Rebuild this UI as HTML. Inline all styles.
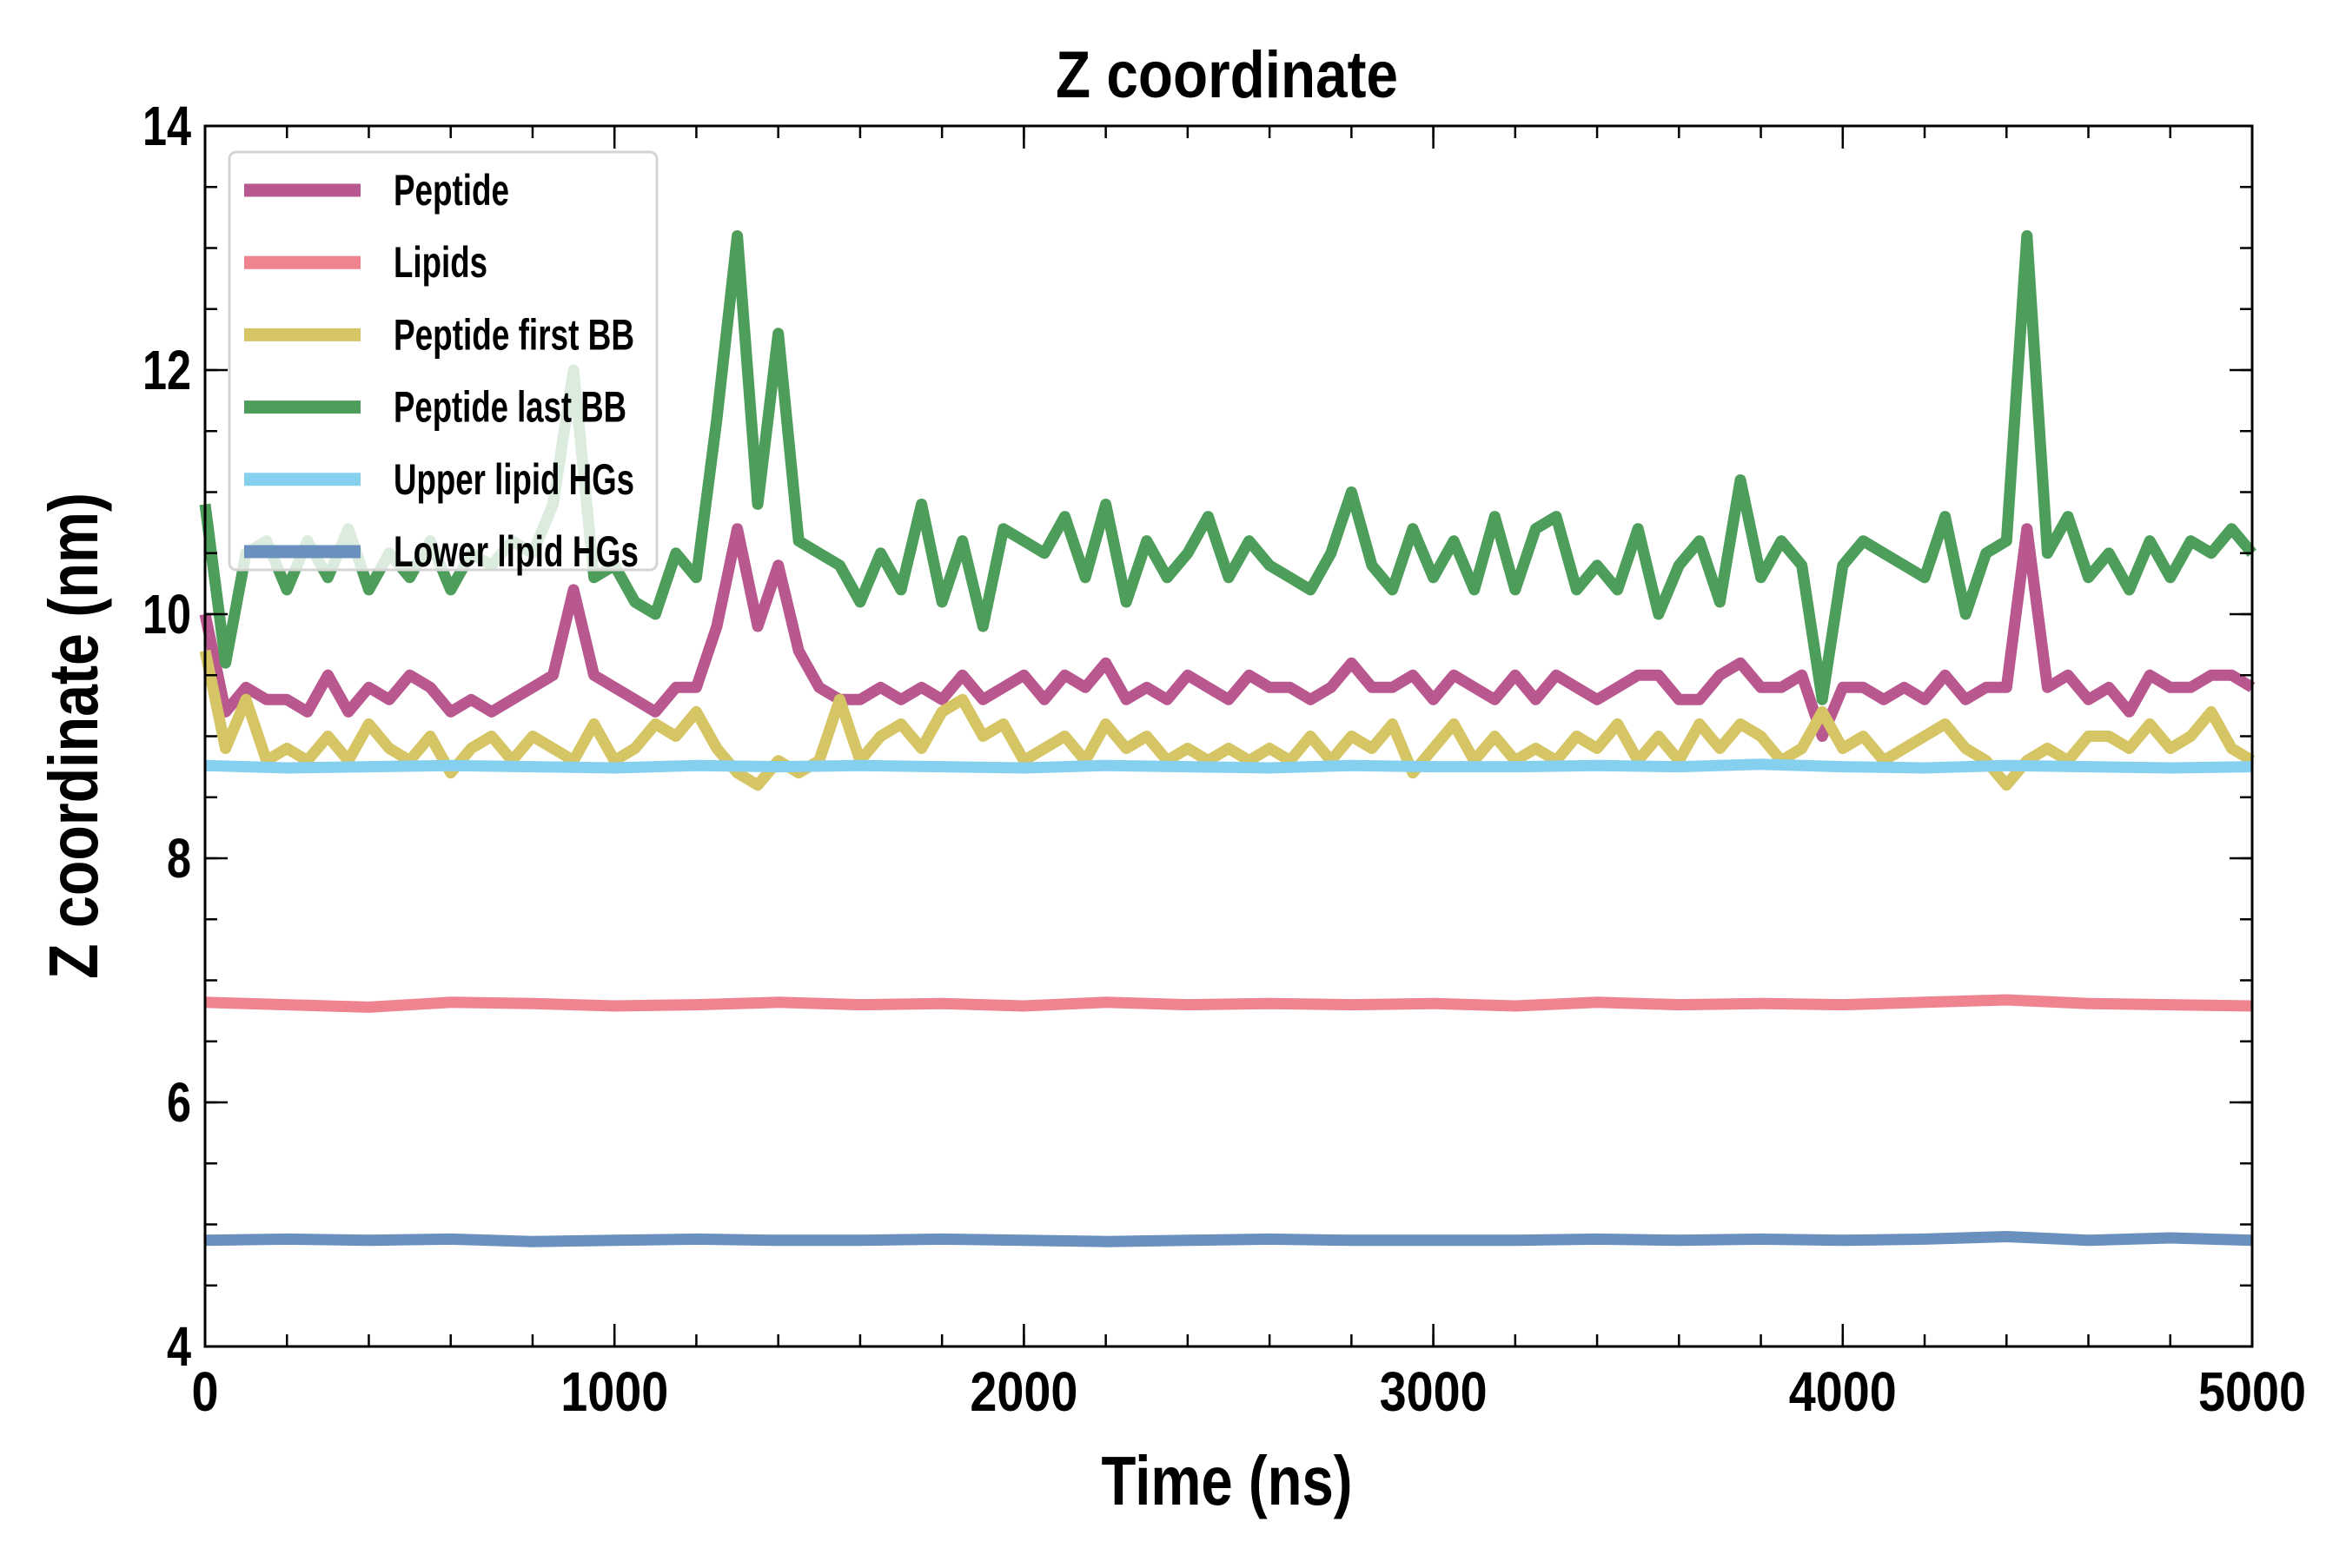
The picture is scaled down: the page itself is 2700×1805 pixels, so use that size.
<!DOCTYPE html>
<html><head><meta charset="utf-8"><style>
html,body{margin:0;padding:0;background:#fff;}
svg text{font-family:"Liberation Sans Narrow","Liberation Sans",sans-serif;font-weight:bold;fill:#000;}
</style></head><body>
<svg id="chart" width="2700" height="1800" viewBox="0 0 2700 1800" xmlns="http://www.w3.org/2000/svg">
<rect width="2700" height="1800" fill="#fff"/>
<text x="1412" y="112" font-size="76" text-anchor="middle" textLength="394" lengthAdjust="spacingAndGlyphs">Z coordinate</text>
<g id="series"></g>
<g id="axes"></g>
<text x="1412" y="1732" font-size="80" text-anchor="middle" textLength="289" lengthAdjust="spacingAndGlyphs">Time (ns)</text>
<text transform="translate(112,847) rotate(-90)" font-size="80" text-anchor="middle" textLength="560" lengthAdjust="spacingAndGlyphs">Z coordinate (nm)</text>
<g id="legend"></g>
</svg>
<script>
const xTicks=[0,1000,2000,3000,4000,5000];
const yTicks=[4,6,8,10,12,14];
const seriesNames=["Peptide","Lipids","Peptide first BB","Peptide last BB","Upper lipid HGs","Lower lipid HGs"];
const tDense=[];for(let i=0;i<=100;i++)tDense.push(i*50);
const tSparse=[];for(let i=0;i<=25;i++)tSparse.push(i*200);
const peptide=[10.0,9.2,9.4,9.3,9.3,9.2,9.5,9.2,9.4,9.3,9.5,9.4,9.2,9.3,9.2,9.3,9.4,9.5,10.2,9.5,9.4,9.3,9.2,9.4,9.4,9.9,10.7,9.9,10.4,9.7,9.4,9.3,9.3,9.4,9.3,9.4,9.3,9.5,9.3,9.4,9.5,9.3,9.5,9.4,9.6,9.3,9.4,9.3,9.5,9.4,9.3,9.5,9.4,9.4,9.3,9.4,9.6,9.4,9.4,9.5,9.3,9.5,9.4,9.3,9.5,9.3,9.5,9.4,9.3,9.4,9.5,9.5,9.3,9.3,9.5,9.6,9.4,9.4,9.5,9.0,9.4,9.4,9.3,9.4,9.3,9.5,9.3,9.4,9.4,10.7,9.4,9.5,9.3,9.4,9.2,9.5,9.4,9.4,9.5,9.5,9.4];
const firstBB=[9.7,8.9,9.3,8.8,8.9,8.8,9.0,8.8,9.1,8.9,8.8,9.0,8.7,8.9,9.0,8.8,9.0,8.9,8.8,9.1,8.8,8.9,9.1,9.0,9.2,8.9,8.7,8.6,8.8,8.7,8.8,9.3,8.8,9.0,9.1,8.9,9.2,9.3,9.0,9.1,8.8,8.9,9.0,8.8,9.1,8.9,9.0,8.8,8.9,8.8,8.9,8.8,8.9,8.8,9.0,8.8,9.0,8.9,9.1,8.7,8.9,9.1,8.8,9.0,8.8,8.9,8.8,9.0,8.9,9.1,8.8,9.0,8.8,9.1,8.9,9.1,9.0,8.8,8.9,9.2,8.9,9.0,8.8,8.9,9.0,9.1,8.9,8.8,8.6,8.8,8.9,8.8,9.0,9.0,8.9,9.1,8.9,9.0,9.2,8.9,8.8];
const lastBB=[10.9,9.6,10.5,10.6,10.2,10.6,10.3,10.7,10.2,10.5,10.3,10.6,10.2,10.5,10.4,10.6,10.5,10.9,12.0,10.3,10.4,10.1,10.0,10.5,10.3,11.6,13.1,10.9,12.3,10.6,10.5,10.4,10.1,10.5,10.2,10.9,10.1,10.6,9.9,10.7,10.6,10.5,10.8,10.3,10.9,10.1,10.6,10.3,10.5,10.8,10.3,10.6,10.4,10.3,10.2,10.5,11.0,10.4,10.2,10.7,10.3,10.6,10.2,10.8,10.2,10.7,10.8,10.2,10.4,10.2,10.7,10.0,10.4,10.6,10.1,11.1,10.3,10.6,10.4,9.3,10.4,10.6,10.5,10.4,10.3,10.8,10.0,10.5,10.6,13.1,10.5,10.8,10.3,10.5,10.2,10.6,10.3,10.6,10.5,10.7,10.5];
const lipids=[6.82,6.80,6.78,6.82,6.81,6.79,6.80,6.82,6.80,6.81,6.79,6.82,6.80,6.81,6.80,6.81,6.79,6.82,6.80,6.81,6.80,6.82,6.84,6.81,6.80,6.79];
const upperHG=[8.76,8.74,8.75,8.76,8.75,8.74,8.76,8.75,8.76,8.75,8.74,8.76,8.75,8.74,8.76,8.75,8.75,8.76,8.75,8.77,8.75,8.74,8.76,8.75,8.74,8.75];
const lowerHG=[4.87,4.88,4.87,4.88,4.86,4.87,4.88,4.87,4.87,4.88,4.87,4.86,4.87,4.88,4.87,4.87,4.87,4.88,4.87,4.88,4.87,4.88,4.90,4.87,4.89,4.87];
const L=236,R=2592,T=145,B=1550;
const xs=t=>L+t/5000*(R-L);
const ys=v=>B-(v-4)/10*(B-T);
const NS="http://www.w3.org/2000/svg";
const colors=["#b9588f","#ef8390","#d6c565","#4e9e5b","#86d0ef","#6a91bd"];
const sets=[[tDense,peptide],[tSparse,lipids],[tDense,firstBB],[tDense,lastBB],[tSparse,upperHG],[tSparse,lowerHG]];
const sg=document.getElementById('series');
const slugs=["peptide-line","lipids-line","peptide-first-bb-line","peptide-last-bb-line","upper-lipid-hgs-line","lower-lipid-hgs-line"];
sets.forEach((s,i)=>{
  const p=document.createElementNS(NS,'path');
  p.setAttribute('d',s[0].map((t,j)=>(j?'L':'M')+xs(t).toFixed(1)+','+ys(s[1][j]).toFixed(1)).join(''));
  p.setAttribute('fill','none');p.setAttribute('stroke',colors[i]);p.setAttribute('stroke-width','13');
  p.setAttribute('stroke-linejoin','round');
  
  
  sg.appendChild(p);
});
const ax=document.getElementById('axes');
function ln(x1,y1,x2,y2,w){const l=document.createElementNS(NS,'line');l.setAttribute('x1',x1);l.setAttribute('y1',y1);l.setAttribute('x2',x2);l.setAttribute('y2',y2);l.setAttribute('stroke','#000');l.setAttribute('stroke-width',w);


ax.appendChild(l);}
for(let t=0;t<=5000;t+=200){const x=xs(t);ln(x,B,x,B-14,2.5);ln(x,T,x,T+14,2.5);}
xTicks.forEach(t=>{const x=xs(t);ln(x,B,x,B-26,2.5);ln(x,T,x,T+26,2.5);
 const tx=document.createElementNS(NS,'text');tx.setAttribute('x',x);tx.setAttribute('y',1624);tx.setAttribute('font-size','64');tx.setAttribute('text-anchor','middle');tx.textContent=t;
 tx.setAttribute('textLength',String(t).length*31);tx.setAttribute('lengthAdjust','spacingAndGlyphs');
 
 
 ax.appendChild(tx);});
for(let v=4;v<=14;v+=0.5){const y=ys(v);ln(L,y,L+14,y,2.5);ln(R,y,R-14,y,2.5);}
yTicks.forEach(v=>{const y=ys(v);ln(L,y,L+26,y,2.5);ln(R,y,R-26,y,2.5);
 const tx=document.createElementNS(NS,'text');tx.setAttribute('x',220);tx.setAttribute('y',y+22);tx.setAttribute('font-size','64');tx.setAttribute('text-anchor','end');tx.textContent=v;
 tx.setAttribute('textLength',String(v).length*28);tx.setAttribute('lengthAdjust','spacingAndGlyphs');
 
 
 ax.appendChild(tx);});
const fr=document.createElementNS(NS,'rect');fr.setAttribute('x',L);fr.setAttribute('y',T);fr.setAttribute('width',R-L);fr.setAttribute('height',B-T);fr.setAttribute('fill','none');fr.setAttribute('stroke','#000');fr.setAttribute('stroke-width','3');


ax.appendChild(fr);
const lg=document.getElementById('legend');
const bx=document.createElementNS(NS,'rect');bx.setAttribute('x',264);bx.setAttribute('y',175);bx.setAttribute('width',492);bx.setAttribute('height',481);bx.setAttribute('rx',8);bx.setAttribute('fill','rgba(255,255,255,0.8)');bx.setAttribute('stroke','#d4d4d4');bx.setAttribute('stroke-width','3');


lg.appendChild(bx);
const lw=[133,108,277,268,277,282];
seriesNames.forEach((n,i)=>{
  const y=219+i*83.2;
  const h=document.createElementNS(NS,'line');h.setAttribute('x1',281);h.setAttribute('x2',415);h.setAttribute('y1',y);h.setAttribute('y2',y);h.setAttribute('stroke',colors[i]);h.setAttribute('stroke-width','15');
  
  
  lg.appendChild(h);
  const tx=document.createElementNS(NS,'text');tx.setAttribute('x',453);tx.setAttribute('y',y+17);tx.setAttribute('font-size','50');tx.setAttribute('textLength',lw[i]);tx.setAttribute('lengthAdjust','spacingAndGlyphs');tx.textContent=n;
  
  
  lg.appendChild(tx);
});
</script>
</body></html>
